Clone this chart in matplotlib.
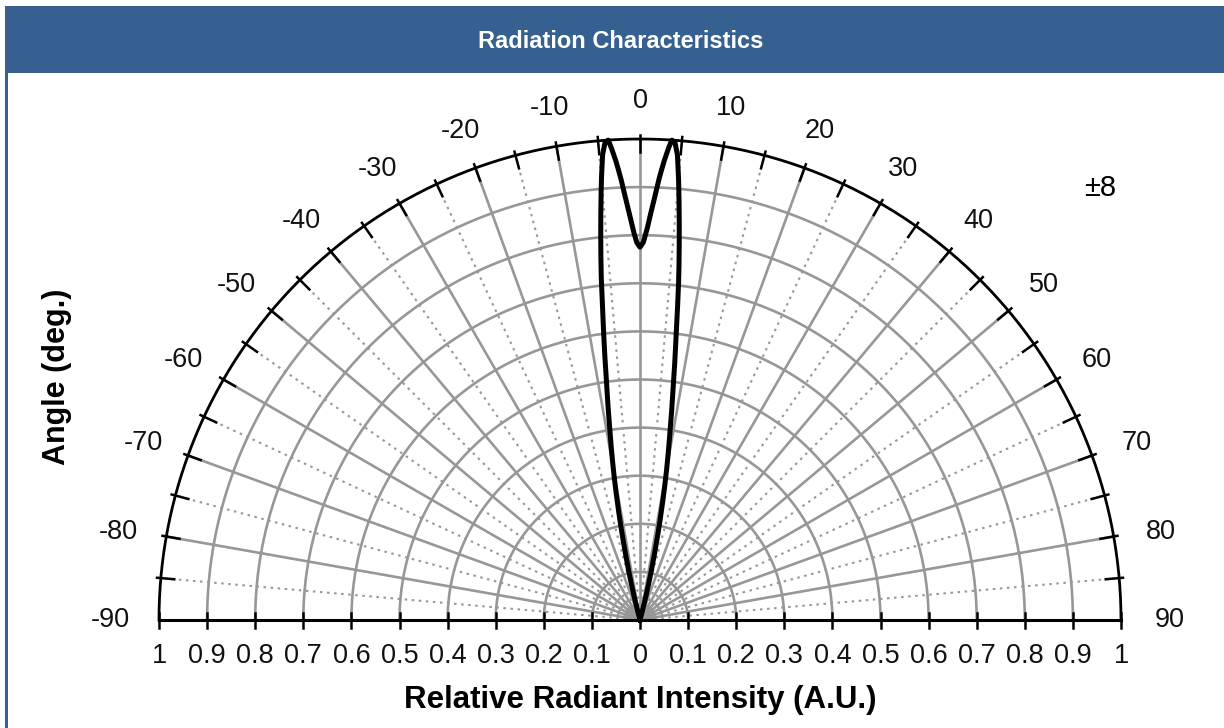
import numpy as np
import matplotlib
matplotlib.use("Agg")
import matplotlib.pyplot as plt
from matplotlib.patches import Rectangle

# ---- data ----
angles_deg = [0, 0.5, 1.0, 1.5, 2.0, 2.5, 3.0, 3.5, 3.8, 4.2, 4.6, 5.0, 5.5, 6.0, 6.5, 7.0,
              8.0, 9.0, 10.0, 11.0, 12.0, 13.0, 14.0, 15.0]
intensity = [0.775, 0.785, 0.81, 0.845, 0.88, 0.92, 0.955, 0.985, 1.0, 0.995, 0.97, 0.92, 0.85,
             0.78, 0.71, 0.63, 0.50, 0.40, 0.32, 0.24, 0.165, 0.10, 0.05, 0.0]
angle_ticks = [-90, -80, -70, -60, -50, -40, -30, -20, -10, 0, 10, 20, 30, 40, 50, 60, 70, 80, 90]
radial_ticks = [0.1, 0.2, 0.3, 0.4, 0.5, 0.6, 0.7, 0.8, 0.9, 1.0]
half_angle_label = "±8"
title = "Radiation Characteristics"
xlabel = "Relative Radiant Intensity (A.U.)"
ylabel = "Angle (deg.)"

plt.rcParams['font.family'] = ['Liberation Sans', 'DejaVu Sans']

W, H = 1224, 728
fig = plt.figure(figsize=(W / 100, H / 100), dpi=100)
fig.patch.set_facecolor("white")

blue = "#36608f"
# header bar and left border
fig.patches.append(Rectangle((5 / W, 1 - 73 / H), 1 - 5 / W, 67 / H, transform=fig.transFigure,
                             facecolor=blue, edgecolor="none", zorder=0))
fig.patches.append(Rectangle((5 / W, 0), 3 / W, 1 - 6 / H, transform=fig.transFigure,
                             facecolor=blue, edgecolor="none", zorder=0))
fig.text(621 / W, 1 - 42 / H, title, color="white", fontsize=17, fontweight="bold",
         ha="center", va="center")

# axes: center at pixel (640,620), radius 481 px
cx, cy, R = 640, 620, 481
ax = fig.add_axes([(cx - R) / W, (H - cy) / H, 2 * R / W, R / H])
ax.set_xlim(-1, 1)
ax.set_ylim(0, 1)
ax.set_aspect("equal")
ax.axis("off")

grid_c = "#979797"
t = np.linspace(-np.pi / 2, np.pi / 2, 400)
# circles
for r in radial_ticks[:-1]:
    ax.plot(r * np.sin(t), r * np.cos(t), color=grid_c, lw=1.9, zorder=1)
# radial lines
for a in range(-85, 90, 5):
    th = np.radians(a)
    if a % 10 == 0:
        ax.plot([0, np.sin(th)], [0, np.cos(th)], color=grid_c, lw=1.9, zorder=1)
    else:
        ax.plot([0, np.sin(th)], [0, np.cos(th)], color=grid_c, lw=1.5,
                linestyle=(0, (1.2, 2.2)), zorder=1)
# outer arc
ax.plot(np.sin(t), np.cos(t), color="black", lw=2.0, zorder=3, clip_on=False)
# arc ticks every 5 deg
for a in range(-85, 90, 5):
    th = np.radians(a)
    ax.plot([0.972 * np.sin(th), 1.008 * np.sin(th)], [0.972 * np.cos(th), 1.008 * np.cos(th)],
            color="black", lw=1.8, zorder=3, clip_on=False)
# baseline
ax.plot([-1.0, 1.0], [0, 0], color="black", lw=2.2, zorder=3, clip_on=False)
xt = [-r for r in radial_ticks[::-1]] + [0] + radial_ticks
for x in xt:
    ax.plot([x, x], [-0.017, 0.015], color="black", lw=1.8, zorder=3, clip_on=False)
    lab = "0" if x == 0 else ("1" if abs(x) == 1 else f"{abs(x):.1f}")
    ax.text(x, -0.075, lab, ha="center", va="center", fontsize=19.5, color="#111111")

# angle labels
for a in angle_ticks:
    th = np.radians(a)
    rr = 1.088 + 0.014 * abs(a) / 90
    if abs(a) == 90:
        ax.text(rr * np.sin(th), 0.0, str(a), ha="center", va="center",
                fontsize=19.5, color="#111111", clip_on=False)
    else:
        ax.text(rr * np.sin(th), rr * np.cos(th) - 0.008, str(a), ha="center", va="center",
                fontsize=19.5, color="#111111", clip_on=False)

# pattern curve (symmetric)
ang = np.array(angles_deg)
inten = np.array(intensity)
full_ang = np.concatenate([-ang[::-1], ang[1:]])
full_r = np.concatenate([inten[::-1], inten[1:]])
s = np.arange(len(full_ang))
ss = np.linspace(0, len(full_ang) - 1, 800)
fa = np.interp(ss, s, full_ang)
fr = np.interp(ss, s, full_r)
thc = np.radians(fa)
ax.plot(fr * np.sin(thc), fr * np.cos(thc), color="black", lw=3.6, zorder=4,
        solid_joinstyle="round", clip_on=False)

# half angle label
fig.text(1100 / W, 1 - 188 / H, half_angle_label, fontsize=21, ha="center", va="center", color="black")

# axis labels
fig.text(640 / W, 1 - 700 / H, xlabel, fontsize=22.5, fontweight="bold", ha="center", va="center")
fig.text(57 / W, 1 - 377 / H, ylabel, fontsize=22, fontweight="bold", ha="center", va="center",
         rotation=90)

fig.savefig("out.png", dpi=100, facecolor="white")
